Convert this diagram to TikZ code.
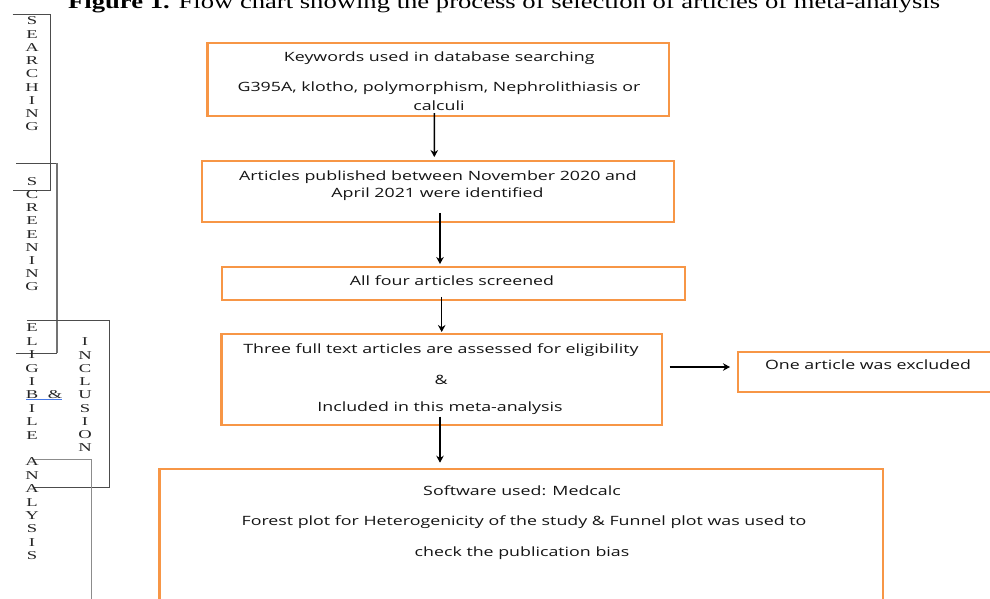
\documentclass[tikz,border=0pt]{standalone}
\usepackage{fontspec}
\usetikzlibrary{arrows.meta}
\setmainfont{Liberation Serif}
\newfontfamily\bxfont[FakeStretch=1.39]{Open Sans}
\newfontfamily\vlfont[FakeStretch=1.55]{Liberation Serif}
\newfontfamily\ttlfont{Liberation Serif}
\definecolor{boxor}{RGB}{247,150,70}
\definecolor{ulblue}{RGB}{70,120,230}
\newcommand\fitw[2]{\sbox0{#2}\scalebox{\fpeval{(#1)/(\the\wd0)}}[1]{\usebox0}}
\begin{document}
\begin{tikzpicture}[x=1pt,y=-1pt,
  box/.style={draw=boxor, line width=2.4pt, inner sep=0pt, outer sep=0pt},
  lab/.style={inner sep=0pt, font=\bxfont\fontsize{12.8pt}{15pt}\selectfont, text=black!92},
  arr/.style={-{Stealth[length=7pt,width=7.5pt]}, line width=1.5pt},
  brk/.style={draw=black!70, line width=0.8pt},
  vl/.style={inner sep=0pt, font=\vlfont\fontsize{12pt}{12pt}\selectfont, text=black!85}]
\useasboundingbox (0,0) rectangle (990,599);
\clip (0,0) rectangle (990,599);
\fill[white] (0,0) rectangle (990,599);

% title (top cut off)
\node[inner sep=0pt, anchor=base west] (title) at (68,8.5)
  {\fitw{872pt}{\ttlfont\fontsize{20pt}{22pt}\selectfont\textbf{Figure 1.} Flow chart showing the process of selection of articles of meta-analysis}};

% left brackets
\draw[brk] (12.7,14.7) -- (50,14.7) -- (50,190) -- (12.7,190);
\draw[brk] (16,163) -- (57,163);
\draw[draw=black!55, line width=1.8pt] (57,163) -- (57,353);
\draw[brk] (57,353) -- (16,353);
\draw[brk] (27,320) -- (109,320) -- (109,487) -- (33,487);
\draw[draw=black!45, line width=1pt] (33,459) -- (91,459) -- (91,605);

% vertical letters
\foreach \ch [count=\i from 0] in {S,E,A,R,C,H,I,N,G}
  \node[vl] (sa\i) at (32,21+13.25*\i) {\ch};
\foreach \ch [count=\i from 0] in {S,C,R,E,E,N,I,N,G}
  \node[vl] (sc\i) at (32,181.7+13.12*\i) {\ch};
\foreach \ch [count=\i from 0] in {E,L,I,G,I,B,I,L,E}
  \node[vl] (el\i) at (32,328+13.4*\i) {\ch};
\node[vl] (amp) at (55,395) {\&};
\draw[draw=ulblue, line width=0.9pt] (26,399.5) -- (62,399.5);
\foreach \ch [count=\i from 0] in {I,N,C,L,U,S,I,O,N}
  \node[vl] (in\i) at (85,342+13.25*\i) {\ch};
\foreach \ch [count=\i from 0] in {A,N,A,L,Y,S,I,S}
  \node[vl] (an\i) at (32,462+13.4*\i) {\ch};

% boxes
\node[box, minimum width=461.7pt, minimum height=73.3pt] (b1) at (438.2,79.4) {};
\node[box, minimum width=472.3pt, minimum height=61.3pt] (b2) at (437.9,191.4) {};
\node[box, minimum width=463.3pt, minimum height=33.3pt] (b3) at (453.4,283.4) {};
\node[box, minimum width=440.4pt, minimum height=91pt] (b4) at (441.8,379.5) {};
\node[box, minimum width=262pt, minimum height=40pt] (b5) at (869,372) {};
\node[box, minimum width=723.4pt, minimum height=141pt] (b6) at (521.3,539.5) {};

% texts
\node[lab] (t1a) at (439.3,57.7) {Keywords used in database searching};
\node[lab] (t1b) at (439,88.3) {G395A, klotho, polymorphism, Nephrolithiasis or};
\node[lab] (t1c) at (439,106) {calculi};
\node[lab] (t2a) at (438,176.7) {Articles published between November 2020 and};
\node[lab] (t2b) at (437.5,194) {April 2021 were identified};
\node[lab] (t3) at (452,280.7) {All four articles screened};
\node[lab] (t4a) at (441,350) {Three full text articles are assessed for eligibility};
\node[lab] (t4b) at (441,380) {\&};
\node[lab] (t4c) at (440,408) {Included in this meta-analysis};
\node[lab] (t5) at (868,365) {One article was excluded};
\node[lab] (t6a) at (522,490.7) {Software used: Medcalc};
\node[lab] (t6b) at (524,521.7) {Forest plot for Heterogenicity of the study \& Funnel plot was used to};
\node[lab] (t6c) at (522,553) {check the publication bias};

% arrows
\draw[arr] ([xshift=-3.9pt,yshift=3pt]b1.south) -- ([xshift=-3.6pt,yshift=3.7pt]b2.north);
\draw[arr] ([xshift=2.1pt,yshift=9.3pt]b2.south) -- ([xshift=-13.4pt,yshift=2.7pt]b3.north);
\draw[arr] ([xshift=-11.7pt,yshift=3.3pt]b3.south) -- ([xshift=-0.1pt,yshift=2pt]b4.north);
\draw[arr] ([xshift=7.6pt,yshift=12.5pt]b4.east) -- ([xshift=-8pt,yshift=5pt]b5.west);
\draw[arr] ([xshift=-1.8pt,yshift=8.3pt]b4.south) -- ([xshift=-81.3pt,yshift=6.3pt]b6.north);
\end{tikzpicture}
\end{document}
